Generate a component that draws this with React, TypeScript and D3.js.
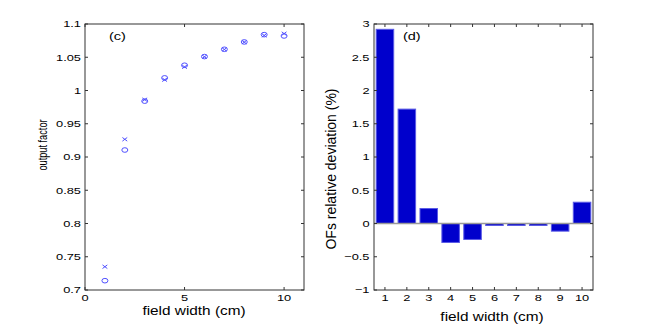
import * as d3 from "d3";

const fieldWidths = [1, 2, 3, 4, 5, 6, 7, 8, 9, 10];
const outputCircles = [0.714, 0.9105, 0.984, 1.019, 1.038, 1.051, 1.062, 1.073, 1.084, 1.082];
const outputCrosses = [0.735, 0.9266, 0.9862, 1.0161, 1.0355, 1.0507, 1.0617, 1.0727, 1.0828, 1.0855];
const deviation = [2.92, 1.72, 0.225, -0.285, -0.24, -0.03, -0.03, -0.03, -0.115, 0.32];

const leftXTicks = [0, 5, 10];
const leftYTicks = [0.7, 0.75, 0.8, 0.85, 0.9, 0.95, 1, 1.05, 1.1];
const rightYTicks = [-1, -0.5, 0, 0.5, 1, 1.5, 2, 2.5, 3];

const FONT = "'Liberation Sans', Arial, Helvetica, sans-serif";
const AXIS = "#333";
const MARK = "#5050ff";
const TL = 3;

const fmt = (v: number) => (v < 0 ? "\u2212" + String(-v) : String(v));

// the source figure is stretched horizontally, so text is drawn wide
function WideText(props: {
  x: number;
  y: number;
  size: number;
  sx: number;
  anchor?: string;
  dy?: string;
  children: any;
}) {
  const { x, y, size, sx, anchor = "start", dy, children } = props;
  return (
    <text
      transform={`translate(${x},${y}) scale(${sx},1)`}
      fontSize={size}
      textAnchor={anchor}
      dy={dy}
      fill="#000"
    >
      {children}
    </text>
  );
}

export default function App() {
  const top = 24;
  const bottom = 290;

  // panel (c)
  const xL = d3.scaleLinear().domain([0, 11]).range([85, 304]);
  const yL = d3.scaleLinear().domain([0.7, 1.1]).range([bottom, top]);

  // panel (d)
  const xR = d3.scaleLinear().domain([0.5, 10.5]).range([374, 593]);
  const yR = d3.scaleLinear().domain([-1, 3]).range([bottom, top]);
  const barW = (xR(1) - xR(0.5)) * 2 * 0.8;

  const tickSize = 9.5;
  const tickSx = 1.35;

  return (
    <svg
      width={654}
      height={327}
      style={{ position: "absolute", left: 0, top: 0, background: "#fff" }}
      fontFamily={FONT}
    >
      {/* ---------- panel (c) ---------- */}
      <g>
        {outputCircles.map((v, i) => (
          <ellipse
            key={"c" + i}
            cx={xL(fieldWidths[i])}
            cy={yL(v)}
            rx={3}
            ry={2.3}
            fill="none"
            stroke={MARK}
            strokeWidth={1}
          />
        ))}
        {outputCrosses.map((v, i) => {
          const cx = xL(fieldWidths[i]);
          const cy = yL(v);
          const sx = 2.4;
          const sy = 1.8;
          return (
            <path
              key={"x" + i}
              d={`M${cx - sx},${cy - sy}L${cx + sx},${cy + sy}M${cx - sx},${cy + sy}L${cx + sx},${cy - sy}`}
              stroke={MARK}
              strokeWidth={1}
            />
          );
        })}
        <rect
          x={xL(0)}
          y={top}
          width={xL(11) - xL(0)}
          height={bottom - top}
          fill="none"
          stroke={AXIS}
          strokeWidth={1}
        />
        {leftXTicks.map((t) => (
          <g key={"lx" + t}>
            <line x1={xL(t)} x2={xL(t)} y1={bottom} y2={bottom - TL} stroke={AXIS} />
            <line x1={xL(t)} x2={xL(t)} y1={top} y2={top + TL} stroke={AXIS} />
            <WideText x={xL(t)} y={301} size={tickSize} sx={tickSx} anchor="middle">
              {fmt(t)}
            </WideText>
          </g>
        ))}
        {leftYTicks.map((t) => (
          <g key={"ly" + t}>
            <line x1={xL(0)} x2={xL(0) + TL} y1={yL(t)} y2={yL(t)} stroke={AXIS} />
            <line x1={xL(11)} x2={xL(11) - TL} y1={yL(t)} y2={yL(t)} stroke={AXIS} />
            <WideText x={81} y={yL(t)} dy="0.36em" size={tickSize} sx={tickSx} anchor="end">
              {fmt(t)}
            </WideText>
          </g>
        ))}
        <WideText x={109} y={40} size={10} sx={1.45}>
          (c)
        </WideText>
        <WideText x={194} y={314.5} size={12} sx={1.28} anchor="middle">
          field width (cm)
        </WideText>
        <text
          transform="translate(47,145) rotate(-90) scale(1,1.4)"
          fontSize={9.2}
          textAnchor="middle"
          fill="#000"
        >
          output factor
        </text>
      </g>

      {/* ---------- panel (d) ---------- */}
      <g>
        {deviation.map((v, i) => {
          const x = xR(fieldWidths[i]) - barW / 2;
          const y0 = yR(Math.max(0, v));
          const y1 = yR(Math.min(0, v));
          return (
            <rect
              key={"b" + i}
              x={x}
              y={y0}
              width={barW}
              height={y1 - y0}
              fill="#0000cc"
              stroke="#5a5ae6"
              strokeWidth={1}
            />
          );
        })}
        <line x1={xR(0.5)} x2={xR(10.5)} y1={yR(0)} y2={yR(0)} stroke="#999" strokeWidth={1.5} />
        <rect
          x={xR(0.5)}
          y={top}
          width={xR(10.5) - xR(0.5)}
          height={bottom - top}
          fill="none"
          stroke={AXIS}
          strokeWidth={1}
        />
        {fieldWidths.map((t) => (
          <g key={"rx" + t}>
            <line x1={xR(t)} x2={xR(t)} y1={bottom} y2={bottom - TL} stroke={AXIS} />
            <line x1={xR(t)} x2={xR(t)} y1={top} y2={top + TL} stroke={AXIS} />
            <WideText x={xR(t)} y={301} size={tickSize} sx={tickSx} anchor="middle">
              {fmt(t)}
            </WideText>
          </g>
        ))}
        {rightYTicks.map((t) => (
          <g key={"ry" + t}>
            <line x1={xR(0.5)} x2={xR(0.5) + TL} y1={yR(t)} y2={yR(t)} stroke={AXIS} />
            <line x1={xR(10.5)} x2={xR(10.5) - TL} y1={yR(t)} y2={yR(t)} stroke={AXIS} />
            <WideText x={369.5} y={yR(t)} dy="0.36em" size={tickSize} sx={tickSx} anchor="end">
              {fmt(t)}
            </WideText>
          </g>
        ))}
        <WideText x={403} y={40} size={10} sx={1.45}>
          (d)
        </WideText>
        <WideText x={492} y={320.5} size={12.5} sx={1.23} anchor="middle">
          field width (cm)
        </WideText>
        <text
          transform="translate(336,169) rotate(-90)"
          fontSize={14}
          textAnchor="middle"
          fill="#000"
        >
          OFs relative deviation (%)
        </text>
      </g>
    </svg>
  );
}
